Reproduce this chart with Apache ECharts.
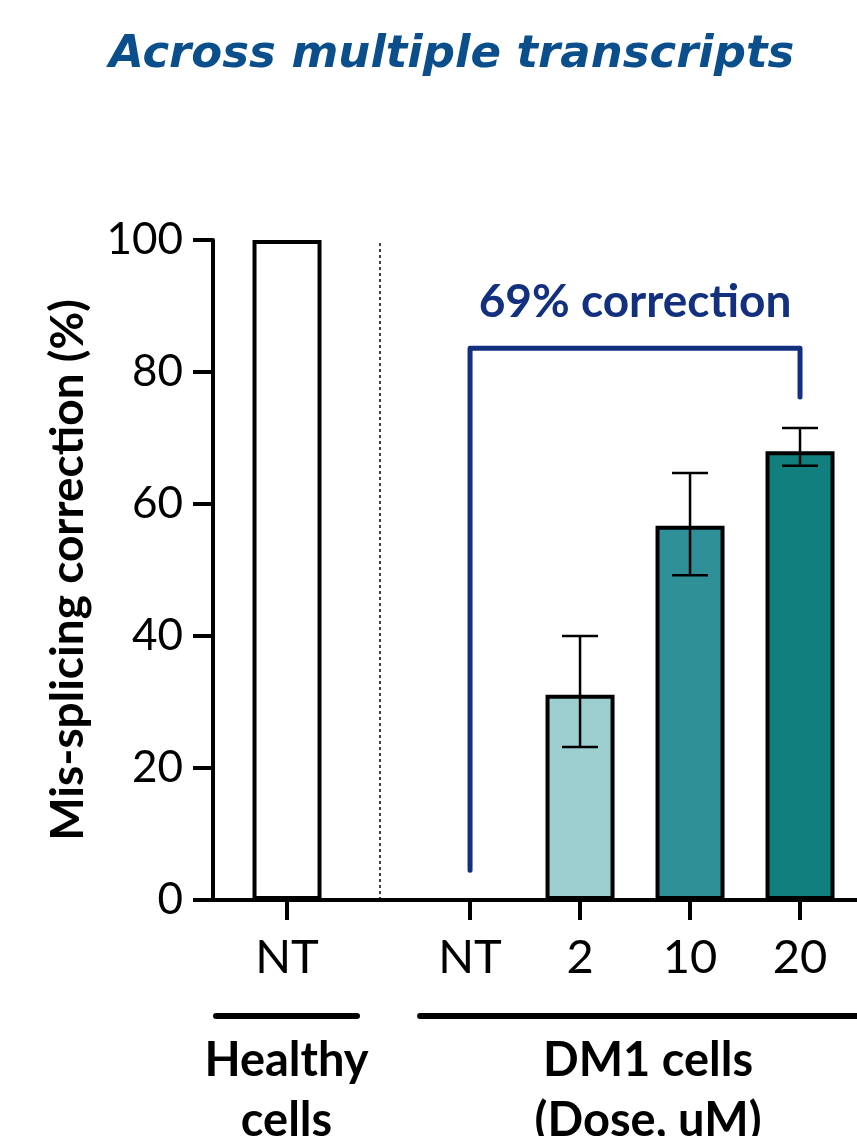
<!DOCTYPE html>
<html><head><meta charset="utf-8">
<script src="https://cdn.jsdelivr.net/npm/echarts@6/dist/echarts.min.js"></script>
<style>html,body{margin:0;padding:0;background:#fff}#c{width:857px;height:1136px}</style>
</head><body><div id="c"></div>
<script>
// ---- data ----
const titleText = 'Across multiple transcripts';
const yAxisName = 'Mis-splicing correction (%)';
const categories = ['NT', 'NT', '2', '10', '20'];
const groupOf = [0, 1, 1, 1, 1];
const groupNames = ['Healthy\ncells', 'DM1 cells\n(Dose, uM)'];
const means = [100, 0, 31.1, 56.7, 68.0];
const errLow = [null, null, 23.2, 49.2, 65.8];
const errHigh = [null, null, 40.0, 64.7, 71.5];
const barFill = ['#ffffff', '#ffffff', '#9dcfd1', '#309098', '#117f7e'];
const yTicks = [0, 20, 40, 60, 80, 100];
const annotationText = '69% correction';
// bracket: from category 1 to category 4, levels in % units
const bracketFrom = 1, bracketTo = 4;
const bracketLevels = [4.5, 83.6, 76.2];

// ---- layout ----
const GROUP_GAP = 0.664;      // extra space between groups (in slot units)
const X_MIN = -0.673, X_MAX = 5.182;
const DIVIDER = 0.836;
const pos = categories.map((c, i) => i + (groupOf[i] > 0 ? GROUP_GAP : 0));
const NAVY = '#13307f';
const FONT = 'Lato';

function nearestLabel(v) {
  let best = 0;
  pos.forEach((p, i) => { if (Math.abs(p - v) < Math.abs(pos[best] - v)) best = i; });
  return categories[best];
}

const groupData = groupNames.map((g, gi) => {
  const idx = groupOf.map((v, i) => v === gi ? i : -1).filter(i => i >= 0);
  return [pos[idx[0]], pos[idx[idx.length - 1]], gi];
});
const groupPad = [[71, 70], [50, 76]];

const chart = echarts.init(document.getElementById('c'), null, {renderer: 'canvas'});
chart.setOption({
  animation: false,
  title: {
    text: titleText, left: 104, top: 28,
    textStyle: {color: '#0a4f8c', fontSize: 45, fontStyle: 'italic', fontWeight: 'bold', fontFamily: 'DejaVu Sans'}
  },
  grid: {left: 213, right: 0, top: 240, bottom: 236, containLabel: false},
  xAxis: {
    type: 'value', min: X_MIN, max: X_MAX,
    splitLine: {show: false},
    axisLine: {show: true, onZero: false, lineStyle: {color: '#000', width: 4}},
    axisTick: {show: true, customValues: pos, length: 20, lineStyle: {color: '#000', width: 4}},
    axisLabel: {show: true, customValues: pos, formatter: v => nearestLabel(v), color: '#000',
      fontSize: 47, fontFamily: FONT, margin: 34}
  },
  yAxis: {
    type: 'value', min: 0, max: 100, interval: 20,
    name: yAxisName, nameLocation: 'middle', nameRotate: 90, nameGap: 122,
    nameTextStyle: {color: '#000', fontSize: 46, fontWeight: 'bold', fontFamily: FONT},
    splitLine: {show: false},
    axisLine: {show: true, onZero: false, lineStyle: {color: '#000', width: 4}},
    axisTick: {show: true, length: 20, lineStyle: {color: '#000', width: 4}},
    axisLabel: {color: '#000', fontSize: 44, fontFamily: FONT, margin: 30,
      formatter: v => yTicks.includes(v) ? String(v) : ''}
  },
  series: [
    {
      type: 'bar', barWidth: 69, z: 2, clip: false,
      data: pos.map((p, i) => ({
        value: [p, means[i]],
        itemStyle: {color: barFill[i], borderColor: '#000', borderWidth: means[i] > 0 ? 4 : 0}
      })),
      markLine: {
        silent: true, symbol: 'none', label: {show: false},
        lineStyle: {color: '#000', width: 1.5, type: [3, 3]},
        data: [{xAxis: DIVIDER}]
      }
    },
    {
      type: 'custom', z: 5,
      data: pos.map((p, i) => [p, errLow[i], errHigh[i]]).filter(d => d[1] !== null),
      encode: {x: 0, y: [1, 2]},
      renderItem: (params, api) => {
        const x = api.value(0);
        const lo = api.coord([x, api.value(1)]), hi = api.coord([x, api.value(2)]);
        const cap = 18, st = {stroke: '#000', lineWidth: 2.5};
        return {type: 'group', children: [
          {type: 'line', shape: {x1: lo[0], y1: lo[1], x2: hi[0], y2: hi[1]}, style: st},
          {type: 'line', shape: {x1: lo[0] - cap, y1: lo[1], x2: lo[0] + cap, y2: lo[1]}, style: st},
          {type: 'line', shape: {x1: hi[0] - cap, y1: hi[1], x2: hi[0] + cap, y2: hi[1]}, style: st}
        ]};
      }
    },
    {
      type: 'custom', z: 6, clip: false,
      data: [[pos[bracketFrom], pos[bracketTo], bracketLevels[0], bracketLevels[1], bracketLevels[2]]],
      encode: {x: [0, 1], y: [2, 3, 4]},
      renderItem: (params, api) => {
        const a = api.coord([api.value(0), api.value(2)]);
        const b = api.coord([api.value(0), api.value(3)]);
        const c = api.coord([api.value(1), api.value(3)]);
        const d = api.coord([api.value(1), api.value(4)]);
        return {type: 'group', children: [
          {type: 'polyline', shape: {points: [a, b, c, d]},
            style: {stroke: NAVY, lineWidth: 5, fill: null, lineCap: 'round', lineJoin: 'round'}},
          {type: 'text', style: {text: annotationText, x: (b[0] + c[0]) / 2, y: b[1] - 46,
            textAlign: 'center', textVerticalAlign: 'middle', fill: NAVY,
            font: 'bold 46px ' + FONT}}
        ]};
      }
    },
    {
      type: 'custom', z: 6, clip: false,
      data: groupData,
      encode: {x: [0, 1]},
      renderItem: (params, api) => {
        const gi = api.value(2);
        const base = api.coord([0, 0])[1];
        const x0 = api.coord([api.value(0), 0])[0] - groupPad[gi][0];
        const x1 = api.coord([api.value(1), 0])[0] + groupPad[gi][1];
        const cx = (x0 + x1) / 2;
        const lines = groupNames[gi].split('\n');
        const kids = [{type: 'line', shape: {x1: x0, y1: base + 116, x2: x1, y2: base + 116},
          style: {stroke: '#000', lineWidth: 6, lineCap: 'round'}}];
        lines.forEach((t, k) => kids.push({type: 'text', style: {text: t, x: cx, y: base + 161 + k * 60,
          textAlign: 'center', textVerticalAlign: 'middle', fill: '#000', font: 'bold 47px ' + FONT}}));
        return {type: 'group', children: kids};
      }
    }
  ]
});
</script></body></html>
